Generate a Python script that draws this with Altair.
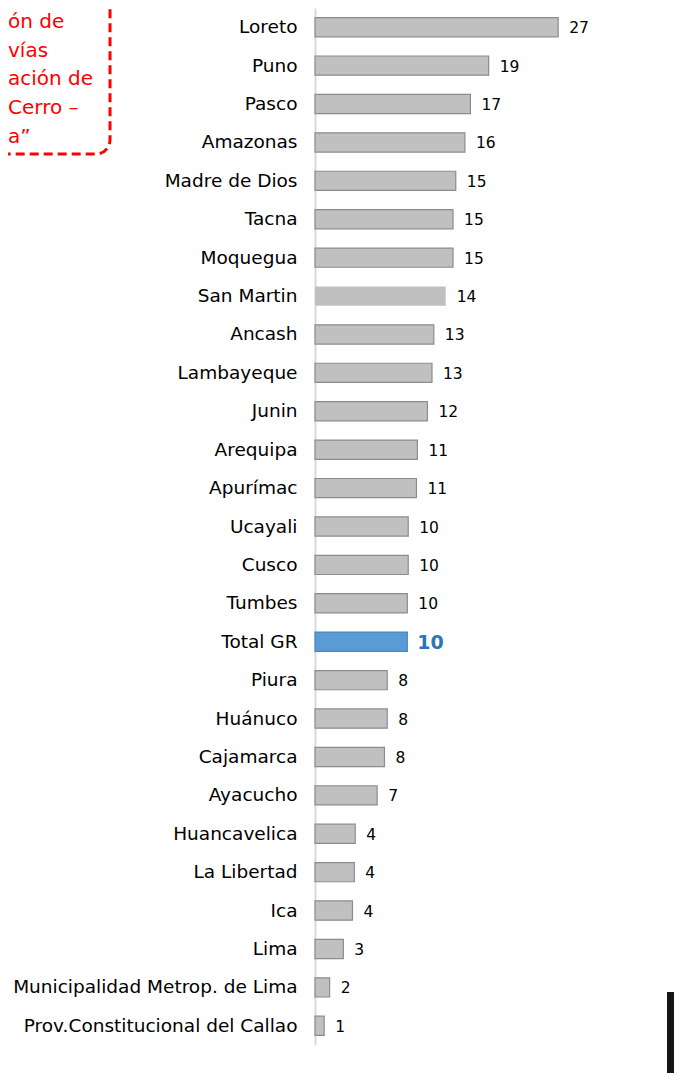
import altair as alt
import pandas as pd

categories = [
    "Loreto", "Puno", "Pasco", "Amazonas", "Madre de Dios", "Tacna", "Moquegua",
    "San Martin", "Ancash", "Lambayeque", "Junin", "Arequipa", "Apurímac", "Ucayali",
    "Cusco", "Tumbes", "Total GR", "Piura", "Huánuco", "Cajamarca", "Ayacucho",
    "Huancavelica", "La Libertad", "Ica", "Lima", "Municipalidad Metrop. de Lima",
    "Prov.Constitucional del Callao",
]
values = [
    26.6, 19.0, 17.0, 16.4, 15.4, 15.1, 15.1,
    14.3, 13.0, 12.8, 12.3, 11.2, 11.1, 10.2,
    10.2, 10.1, 10.1, 7.9, 7.9, 7.6, 6.8,
    4.4, 4.3, 4.1, 3.1, 1.6,
    1.0,
]
note_lines = ["ón de", "vías", "ación de", "Cerro –", "a”"]

df = pd.DataFrame({"category": categories, "value": values})
one = pd.DataFrame({"k": [0]})

FONT = "DejaVu Sans"

base = alt.Chart(df).encode(
    y=alt.Y(
        "category:N",
        sort=categories,
        scale=alt.Scale(paddingInner=0.5, paddingOuter=0.25),
        axis=alt.Axis(
            title=None, ticks=False, tickSize=0, labelPadding=18,
            labelFont=FONT, labelFontSize=18.5, labelColor="#000000",
            labelLimit=400, domainColor="#d9d9d9", domainWidth=2, grid=False,
        ),
    ),
    x=alt.X("value:Q", scale=alt.Scale(domain=[0, 38.4], nice=False, zero=True), axis=None),
)

bars = base.mark_bar(strokeWidth=1.2).encode(
    fill=alt.condition("datum.category === 'Total GR'", alt.value("#5b9bd5"), alt.value("#c0c0c0")),
    stroke=alt.condition("datum.category === 'Total GR'", alt.value("#4a86c6"), alt.value("#8c8c8c")),
    strokeOpacity=alt.condition("datum.category === 'San Martin'", alt.value(0), alt.value(1)),
)

labels = base.mark_text(
    align="left", baseline="middle", dx=11, dy=1, font=FONT, fontSize=15.5, color="#000000"
).encode(text=alt.Text("value:Q", format=".0f")).transform_filter("datum.category !== 'Total GR'")

total_label = base.mark_text(
    align="left", baseline="middle", dx=10, dy=1, font=FONT, fontSize=19,
    fontWeight="bold", color="#2e75b6"
).encode(text=alt.Text("value:Q", format=".0f")).transform_filter("datum.category === 'Total GR'")

note_box = alt.Chart(one).mark_rect(
    fill="transparent", stroke="#ff0000", strokeWidth=3, strokeDash=[9, 5], cornerRadius=14
).encode(x=alt.value(-330), x2=alt.value(-205), y=alt.value(-20), y2=alt.value(146))

note_text = alt.Chart(one).mark_text(
    align="left", baseline="alphabetic", font=FONT, fontSize=20, color="#ff0000", lineHeight=28.7
).encode(x=alt.value(-307), y=alt.value(20), text=alt.value(note_lines))

black_block = alt.Chart(one).mark_rect(fill="#151518").encode(
    x=alt.value(352), x2=alt.value(380), y=alt.value(984), y2=alt.value(1100)
)

chart = alt.layer(bars, labels, total_label, note_box, note_text, black_block).properties(
    width=351,
    height=1037,
    autosize=alt.AutoSizeParams(type="none"),
    padding={"left": 307, "top": 0, "right": 8, "bottom": 28},
).configure_view(stroke=None)

chart.save("out.html", embed_options={"renderer": "svg", "actions": False})
